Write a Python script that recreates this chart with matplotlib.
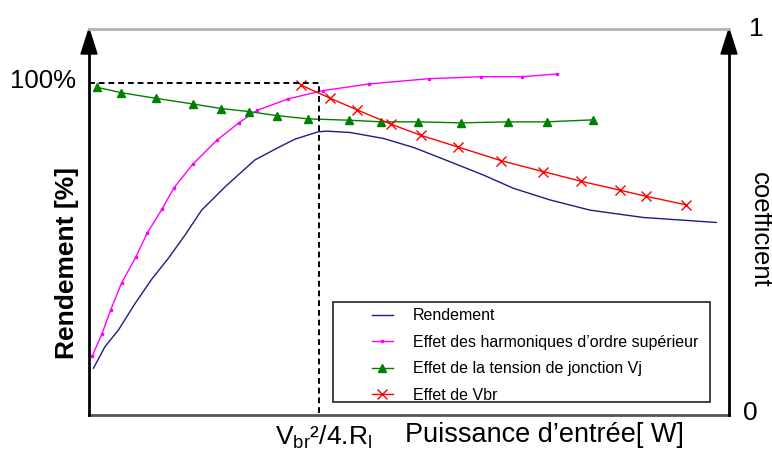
import matplotlib
matplotlib.use("Agg")
import matplotlib.pyplot as plt
from matplotlib.patches import Polygon, Rectangle

plt.rcParams['font.family'] = ['Liberation Sans', 'DejaVu Sans']
plt.rcParams['mathtext.default'] = 'regular'

# ---- data (x: input power, arbitrary units; y: %) ----
rend_x = [0.07, 0.25, 0.46, 0.72, 0.98, 1.24, 1.50, 1.76, 2.13, 2.59, 2.96, 3.22, 3.58,
          3.71, 4.08, 4.60, 5.07, 5.64, 6.16, 6.63, 7.20, 7.83, 8.66, 9.80]
rend_y = [14.1, 20.6, 25.6, 33.6, 40.9, 47.2, 54.2, 61.7, 68.8, 76.8, 80.6, 83.1, 85.3,
          85.5, 85.1, 83.3, 80.6, 76.3, 72.3, 68.3, 64.8, 61.7, 59.5, 58.0]

harm_x = [0.05, 0.20, 0.34, 0.51, 0.73, 0.91, 1.14, 1.33, 1.62, 2.00, 2.34, 2.63, 3.11,
          3.65, 4.37, 5.31, 6.13, 6.76, 7.31]
harm_y = [17.8, 24.3, 31.7, 39.8, 47.5, 54.8, 62.0, 68.5, 75.5, 82.8, 88.0, 91.8, 95.2,
          97.7, 99.7, 101.3, 101.9, 101.9, 102.7]

vj_x = [0.13, 0.50, 1.04, 1.62, 2.07, 2.50, 2.93, 3.42, 4.06, 4.57, 5.14, 5.82, 6.54, 7.15, 7.87]
vj_y = [98.7, 97.1, 95.4, 93.7, 92.3, 91.4, 90.2, 89.2, 88.8, 88.3, 88.3, 88.0, 88.3, 88.3, 88.9]

vbr_x = [3.31, 3.77, 4.19, 4.72, 5.19, 5.77, 6.44, 7.10, 7.69, 8.30, 8.70, 9.33]
vbr_y = [99.4, 95.4, 91.9, 87.6, 84.2, 80.7, 76.6, 73.3, 70.4, 67.7, 65.9, 63.3]

labels = ["Rendement",
          "Effet des harmoniques d\u2019ordre supérieur",
          "Effet de la tension de jonction Vj",
          "Effet de Vbr"]

x_opt = 3.59      # Vbr^2/4.Rl
y_full = 100.0    # 100 %

fig = plt.figure(figsize=(7.72, 4.5), dpi=100)
ax = fig.add_axes([89/772, 35/450, 640/772, 386/450])
ax.set_xlim(0, 10)
ax.set_ylim(0, 116.27)
for s in ax.spines.values():
    s.set_visible(False)
ax.set_xticks([])
ax.set_yticks([])

l1, = ax.plot(rend_x, rend_y, color='#1c1c8a', lw=1.0)
l2, = ax.plot(harm_x, harm_y, color='#ff00ff', lw=1.0, marker='s', markersize=1.6)
l3, = ax.plot(vj_x, vj_y, color='#008000', lw=1.0, marker='^', markersize=6)
l4, = ax.plot(vbr_x, vbr_y, color='#ff0000', lw=1.0, marker='x', markersize=7, mew=1.0)

# dashed guide
ax.plot([0, x_opt, x_opt], [y_full, y_full, 0], color='black', lw=1.4,
        linestyle=(0, (3, 2)), clip_on=False)

# axes frame lines
ax.plot([0, 1], [1, 1], transform=ax.transAxes, color='#b4b4b4', lw=2, clip_on=False)
ax.plot([0, 1], [0, 0], transform=ax.transAxes, color='#555555', lw=2, clip_on=False)
ax.plot([0, 0], [0, 0.95], transform=ax.transAxes, color='black', lw=2, clip_on=False)
ax.plot([1, 1], [0, 0.95], transform=ax.transAxes, color='black', lw=2, clip_on=False)
aw = 8/640
ah = 25/386
for xa in (0, 1):
    ax.add_patch(Polygon([[xa - aw, 1 - ah], [xa + aw, 1 - ah], [xa, 1]], closed=True,
                         transform=ax.transAxes, color='black', clip_on=False))

# legend
ax.add_patch(Rectangle((0.381, 0.034), 0.589, 0.259, transform=ax.transAxes,
                       fill=False, edgecolor='#222222', lw=1.2, clip_on=False, zorder=5))
ax.legend([l1, l2, l3, l4], labels, loc='upper left', bbox_to_anchor=(0.442, 0.276),
          frameon=False, fontsize=11.5, borderpad=0, borderaxespad=0,
          handlelength=1.3, handletextpad=1.25, labelspacing=0.72, numpoints=1)

# texts
fig.text(76/772, 1 - 81/450, "100%", ha='right', va='center', fontsize=18.5)
fig.text(756/772, 1 - 29/450, "1", ha='center', va='center', fontsize=19)
fig.text(750/772, 1 - 413/450, "0", ha='center', va='center', fontsize=19)
fig.text(67/772, 1 - 263/450, "Rendement [%]", rotation=90, ha='center', va='center',
         fontsize=19, fontweight='bold')
fig.text(760/772, 1 - 230/450, "coefficient", rotation=-90, ha='center', va='center',
         fontsize=18.5)
fig.text(405/772, 1 - 435/450, "Puissance d\u2019entrée[ W]", ha='left', va='center',
         fontsize=19.5)
fig.text(275/772, 1 - 437/450, r"V$_{br}$²/4.R$_{l}$", ha='left', va='center',
         fontsize=19)

fig.savefig("out.png", dpi=100)
